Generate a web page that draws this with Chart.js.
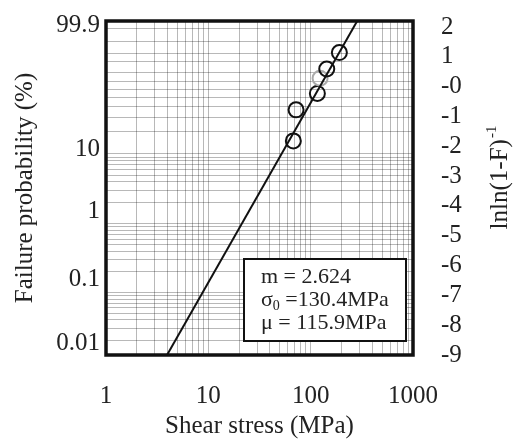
<!DOCTYPE html>
<html>
<head>
<meta charset="utf-8">
<script src="https://cdn.jsdelivr.net/npm/chart.js@4.4.0/dist/chart.umd.min.js"></script>
<style>
  html, body { margin: 0; padding: 0; background: #fff; }
</style>
</head>
<body>
<canvas id="weibull" width="515" height="441"></canvas>
<script>
// measured points: shear stress (MPa) and lnln(1/(1-F))
var stress = [67.7, 72, 116.3, 123.6, 143.6, 190.8];
var lnlnValues = [-1.82, -0.78, -0.23, 0.28, 0.59, 1.14];
var pointColors = ['#111', '#111', '#111', '#aaa', '#111', '#111'];

// fitted Weibull line (end points)
var fitStress = [3.95, 285];
var fitLnln = [-9, 2.2];

// x axis
var xLabels = [1, 10, 100, 1000];
var xGrid = [1, 2, 3, 4, 5, 6, 7, 8, 9, 10, 20, 30, 40, 50, 60, 70, 80, 90,
             100, 200, 300, 400, 500, 600, 700, 800, 900, 1000];

// right axis lnln(1-F)^-1
var rightTicks = [2, 1, 0, -1, -2, -3, -4, -5, -6, -7, -8, -9];

// left axis failure probability labels and where they sit
var probLabels = ['99.9', '10', '1', '0.1', '0.01'];
var probTickPos = [2.05, -2.1, -4.2, -6.45, -8.6];

// probability paper grid (%)
var probGrid = [0.02, 0.03, 0.04, 0.05, 0.06, 0.07, 0.08, 0.09,
                0.1, 0.2, 0.3, 0.4, 0.5, 0.6, 0.7, 0.8, 0.9,
                1, 2, 3, 4, 5, 6, 7, 8, 9,
                10, 20, 30, 40, 50, 60, 70, 80, 90, 95, 99, 99.9];

var yMin = -9, yMax = 2.2;
var serif = "'Liberation Serif', 'Times New Roman', serif";
var gridColor = 'rgba(0,0,0,0.28)';
var textColor = '#222';
var fontSize = 25;

function toLnln(p) {
  return Math.log(-Math.log(1 - p / 100));
}

// no label overflow padding, the frame sits where the axes say
function noOverflow(scale) {
  scale.paddingTop = 0;
  scale.paddingBottom = 0;
  scale.paddingLeft = 0;
  scale.paddingRight = 0;
}

// parameter box, heavy frame and the right axis title
var boxPlugin = {
  id: 'paramBox',
  afterDraw: function(chart) {
    var ctx = chart.ctx, ca = chart.chartArea;
    var w = 162, h = 82;
    var bx = ca.right - 7 - w, by = ca.bottom - 14 - h;
    ctx.save();
    ctx.fillStyle = '#fff';
    ctx.fillRect(bx, by, w, h);
    ctx.strokeStyle = '#111';
    ctx.lineWidth = 2;
    ctx.strokeRect(bx, by, w, h);

    ctx.fillStyle = textColor;
    ctx.textBaseline = 'alphabetic';
    ctx.font = '22px ' + serif;
    var tx = bx + 17;
    ctx.fillText('m = 2.624', tx, by + 24);
    ctx.fillText('\u03c3', tx, by + 47);
    var sw = ctx.measureText('\u03c3').width;
    ctx.font = '14px ' + serif;
    ctx.fillText('0', tx + sw, by + 51);
    var zw = ctx.measureText('0').width;
    ctx.font = '22px ' + serif;
    ctx.fillText(' =130.4MPa', tx + sw + zw, by + 47);
    ctx.fillText('\u03bc = 115.9MPa', tx, by + 70);

    ctx.lineWidth = 3.5;
    ctx.strokeRect(ca.left, ca.top, ca.right - ca.left, ca.bottom - ca.top);

    // lnln(1-F)^-1, reading bottom to top
    var main = 'lnln(1-F)', sup = '-1';
    ctx.font = fontSize + 'px ' + serif;
    var mw = ctx.measureText(main).width;
    ctx.font = '15px ' + serif;
    var pw = ctx.measureText(sup).width;
    ctx.translate(chart.width - 8, (ca.top + ca.bottom) / 2 - 10);
    ctx.rotate(-Math.PI / 2);
    ctx.textAlign = 'left';
    ctx.font = fontSize + 'px ' + serif;
    ctx.fillText(main, -(mw + pw) / 2, 0);
    ctx.font = '15px ' + serif;
    ctx.fillText(sup, -(mw + pw) / 2 + mw + 1, -11);
    ctx.restore();
  }
};

new Chart(document.getElementById('weibull'), {
  type: 'scatter',
  data: {
    datasets: [{
      type: 'line',
      data: fitStress.map(function(s, i) { return { x: s, y: fitLnln[i] }; }),
      borderColor: '#111',
      borderWidth: 2,
      pointRadius: 0,
      xAxisID: 'x',
      yAxisID: 'y'
    }, {
      data: stress.map(function(s, i) { return { x: s, y: lnlnValues[i] }; }),
      pointRadius: 7.5,
      pointBorderWidth: 2,
      pointBorderColor: pointColors,
      pointBackgroundColor: 'rgba(0,0,0,0)',
      xAxisID: 'x',
      yAxisID: 'y'
    }]
  },
  options: {
    responsive: false,
    animation: false,
    layout: { padding: { top: 21, left: 0, right: 0, bottom: 0 } },
    plugins: { legend: { display: false }, tooltip: { enabled: false } },
    scales: {
      x: {
        type: 'logarithmic',
        position: 'bottom',
        min: 1, max: 1000,
        afterBuildTicks: function(scale) {
          scale.ticks = xGrid.map(function(v) { return { value: v }; });
        },
        afterFit: function(scale) { scale.height = 86; noOverflow(scale); },
        ticks: {
          autoSkip: false, maxRotation: 0, padding: 26,
          color: textColor, font: { family: serif, size: fontSize },
          callback: function(v) { return xLabels.indexOf(v) >= 0 ? String(v) : ''; }
        },
        grid: { color: gridColor, drawTicks: false },
        border: { display: false },
        title: {
          display: true, text: 'Shear stress (MPa)', color: textColor,
          font: { family: serif, size: fontSize }, padding: { top: 0, bottom: 0 }
        }
      },
      yl: {
        position: 'left',
        min: yMin, max: yMax,
        afterBuildTicks: function(scale) {
          scale.ticks = probTickPos.map(function(v) { return { value: v }; });
        },
        afterFit: function(scale) { scale.width = 106; noOverflow(scale); },
        ticks: {
          autoSkip: false, padding: 6, color: textColor,
          font: { family: serif, size: fontSize },
          callback: function(v, i) { return probLabels[i]; }
        },
        grid: { display: false, drawTicks: false },
        border: { display: false },
        title: {
          display: true, text: 'Failure probability (%)', color: textColor,
          font: { family: serif, size: fontSize }, padding: { top: 10, bottom: 0 }
        }
      },
      yg: {
        position: 'left',
        min: yMin, max: yMax,
        afterBuildTicks: function(scale) {
          scale.ticks = probGrid.map(function(p) { return { value: toLnln(p) }; });
        },
        afterFit: function(scale) { scale.width = 0; noOverflow(scale); },
        ticks: { display: false },
        grid: { color: gridColor, drawTicks: false },
        border: { display: false }
      },
      y: {
        position: 'right',
        min: yMin, max: yMax,
        afterBuildTicks: function(scale) {
          scale.ticks = rightTicks.map(function(v) { return { value: v }; });
        },
        afterFit: function(scale) { scale.width = 102; noOverflow(scale); },
        ticks: {
          autoSkip: false, padding: 28, color: textColor,
          font: { family: serif, size: fontSize },
          callback: function(v) { return v === 0 ? '-0' : String(v); }
        },
        grid: { display: false, drawTicks: false },
        border: { display: false }
      }
    }
  },
  plugins: [boxPlugin]
});
</script>
</body>
</html>
